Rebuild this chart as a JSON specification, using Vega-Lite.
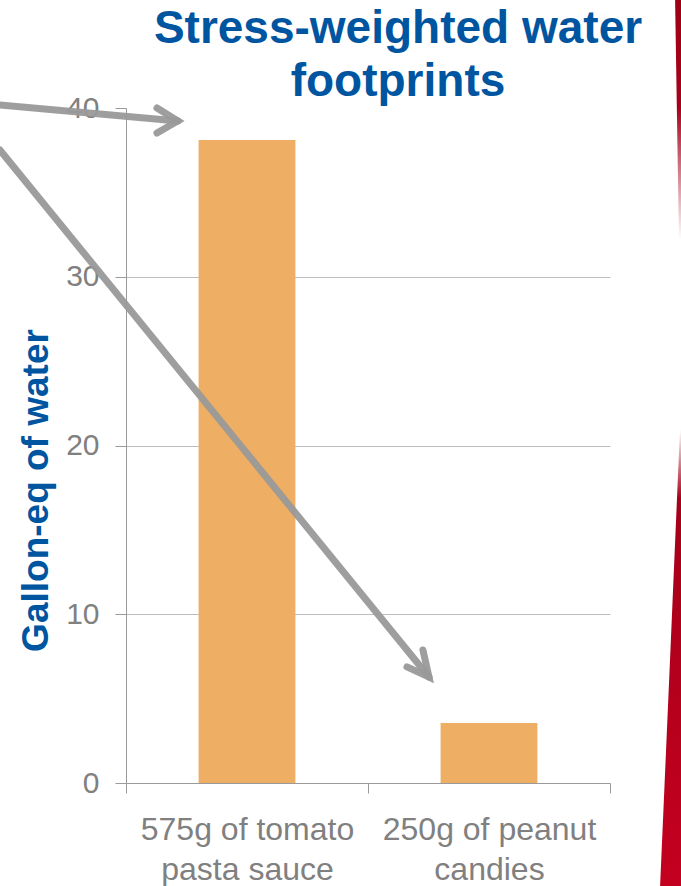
{
  "$schema": "https://vega.github.io/schema/vega-lite/v6.json",
  "width": 484,
  "height": 675,
  "autosize": "none",
  "padding": {"left": 126, "top": 108, "right": 71, "bottom": 103},
  "background": "#ffffff",
  "config": {
    "view": {"stroke": null},
    "font": "Liberation Sans"
  },
  "title": {
    "text": ["Stress-weighted water", "footprints"],
    "font": "Liberation Sans",
    "fontSize": 46,
    "fontWeight": "bold",
    "color": "#0055A0",
    "lineHeight": 53,
    "anchor": "middle",
    "frame": "group",
    "dx": 30,
    "dy": 106,
    "offset": 0
  },
  "datasets": {
    "footprints": [
      {"product": "575g of tomato pasta sauce", "gallons": 38.1},
      {"product": "250g of peanut candies", "gallons": 3.55}
    ],
    "arrows": [
      {"seg": "a1-shaft", "step": 0, "ax": -0.521, "ay": 40.18},
      {"seg": "a1-shaft", "step": 1, "ax": 0.214, "ay": 39.23},
      {"seg": "a1-head", "step": 0, "ax": 0.128, "ay": 40.0},
      {"seg": "a1-head", "step": 1, "ax": 0.214, "ay": 39.23},
      {"seg": "a1-head", "step": 2, "ax": 0.128, "ay": 38.52},
      {"seg": "a2-shaft", "step": 0, "ax": -0.521, "ay": 37.51},
      {"seg": "a2-shaft", "step": 1, "ax": 1.252, "ay": 6.28},
      {"seg": "a2-head", "step": 0, "ax": 1.227, "ay": 7.88},
      {"seg": "a2-head", "step": 1, "ax": 1.252, "ay": 6.28},
      {"seg": "a2-head", "step": 2, "ax": 1.161, "ay": 6.88}
    ],
    "stripeTop": [
      {"sy": 46.4, "left": 2.269, "right": 2.33},
      {"sy": 39.3, "left": 2.277, "right": 2.33},
      {"sy": 32.2, "left": 2.285, "right": 2.33}
    ],
    "stripeBottom": [
      {"sy": 20.92, "left": 2.289, "right": 2.33},
      {"sy": 7.29, "left": 2.248, "right": 2.33},
      {"sy": -6.1, "left": 2.207, "right": 2.33}
    ]
  },
  "layer": [
    {
      "data": {"name": "footprints"},
      "mark": {"type": "bar", "color": "#EEAE64", "width": {"band": 0.4}},
      "encoding": {
        "x": {
          "field": "product",
          "type": "nominal",
          "sort": null,
          "scale": {"paddingInner": 0, "paddingOuter": 0},
          "axis": {
            "title": null,
            "labelAngle": 0,
            "labelFont": "Liberation Sans",
            "labelFontSize": 32,
            "labelColor": "#808080",
            "labelLineHeight": 40,
            "labelPadding": 21,
            "labelLimit": 400,
            "labelExpr": "datum.label == '575g of tomato pasta sauce' ? ['575g of tomato', 'pasta sauce'] : datum.label == '250g of peanut candies' ? ['250g of peanut', 'candies'] : ''",
            "tickBand": "extent",
            "tickSize": 10,
            "tickColor": "#9A9A9A",
            "domainColor": "#9A9A9A",
            "grid": false
          }
        },
        "y": {
          "field": "gallons",
          "type": "quantitative",
          "scale": {"domain": [0, 40], "nice": false},
          "axis": {
            "values": [0, 10, 20, 30, 40],
            "title": "Gallon-eq of water",
            "titleFont": "Liberation Sans",
            "titleFontSize": 37,
            "titleFontWeight": "bold",
            "titleColor": "#0055A0",
            "titleY": 382,
            "titlePadding": 10,
            "labelFont": "Liberation Sans",
            "labelFontSize": 30,
            "labelColor": "#808080",
            "labelPadding": 16,
            "tickSize": 11,
            "tickColor": "#9A9A9A",
            "domainColor": "#9A9A9A",
            "grid": true,
            "gridColor": "#BDBDBD",
            "gridOpacity": {"condition": {"test": "datum.value == 0 || datum.value == 40", "value": 0}, "value": 1}
          }
        }
      }
    },
    {
      "data": {"name": "stripeTop"},
      "mark": {
        "type": "area",
        "orient": "horizontal",
        "clip": false,
        "fill": {
          "gradient": "linear", "x1": 0, "y1": 0, "x2": 0, "y2": 1,
          "stops": [
            {"offset": 0, "color": "#9E0016"},
            {"offset": 0.45, "color": "#A8001B"},
            {"offset": 1, "color": "#ffffff"}
          ]
        }
      },
      "encoding": {
        "y": {"field": "sy", "type": "quantitative", "scale": {"domain": [0, 40], "nice": false}},
        "x": {"field": "left", "type": "quantitative", "scale": {"domain": [0, 2], "nice": false, "zero": false}, "axis": null},
        "x2": {"field": "right"}
      }
    },
    {
      "data": {"name": "stripeBottom"},
      "mark": {
        "type": "area",
        "orient": "horizontal",
        "clip": false,
        "fill": {
          "gradient": "linear", "x1": 0, "y1": 0, "x2": 0, "y2": 1,
          "stops": [
            {"offset": 0, "color": "#ffffff"},
            {"offset": 0.15, "color": "#A6001A"},
            {"offset": 1, "color": "#C4001F"}
          ]
        }
      },
      "encoding": {
        "y": {"field": "sy", "type": "quantitative", "scale": {"domain": [0, 40], "nice": false}},
        "x": {"field": "left", "type": "quantitative", "scale": {"domain": [0, 2], "nice": false, "zero": false}, "axis": null},
        "x2": {"field": "right"}
      }
    },
    {
      "data": {"name": "arrows"},
      "mark": {"type": "line", "clip": false, "color": "#999999", "strokeWidth": 7, "strokeCap": "round", "strokeJoin": "miter", "opacity": 0.95},
      "encoding": {
        "x": {"field": "ax", "type": "quantitative", "scale": {"domain": [0, 2], "nice": false, "zero": false}, "axis": null},
        "y": {"field": "ay", "type": "quantitative", "scale": {"domain": [0, 40], "nice": false}},
        "detail": {"field": "seg"},
        "order": {"field": "step"}
      }
    }
  ],
  "resolve": {"scale": {"x": "independent"}, "axis": {"x": "independent"}}
}
